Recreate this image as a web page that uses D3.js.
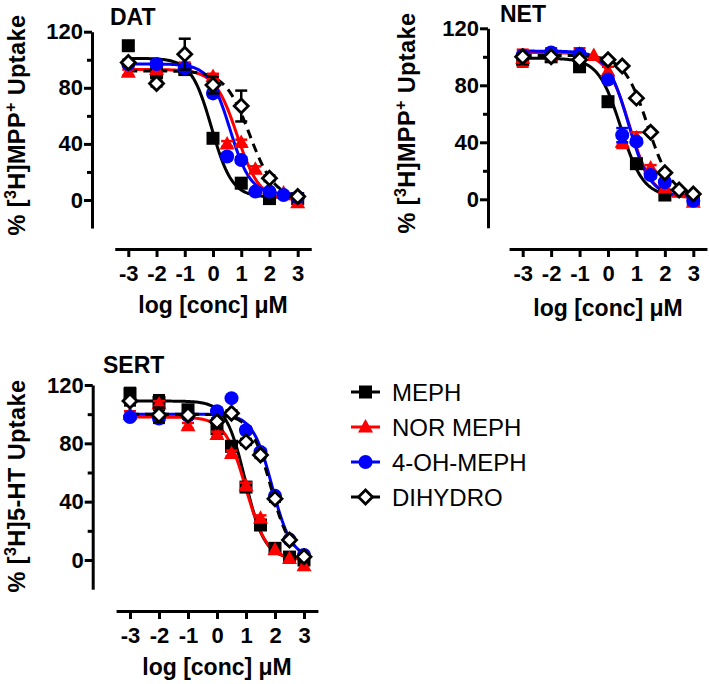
<!DOCTYPE html>
<html>
<head>
<meta charset="utf-8">
<script src="https://cdn.jsdelivr.net/npm/d3@7"></script>
<style>
  body { margin: 0; background: #fff; }
  svg { display: block; font-family: "Liberation Sans", Arial, sans-serif; }
</style>
</head>
<body>
<svg id="chart" width="709" height="684"></svg>
<script>
// ---- data ----
const seriesNames = ["MEPH", "NOR MEPH", "4-OH-MEPH", "DIHYDRO"];
const xTickValues = [-3, -2, -1, 0, 1, 2, 3];
const yTickValues = [0, 40, 80, 120];
const yMinorTicks = [20, 60, 100];

// DAT
const datX = [-3, -2, -1, 0, 0.5, 1, 1.5, 2, 2.5, 3];
const datMeph = [110, 91, 93, 44, null, 12, null, 1, null, 1];
const datMephSem = [3, 4, 2, 2, 0, 2, 0, 1, 0, 1];
const datNor = [91, 93, 96, 88, 40, 41, 22, 8, 5, -2];
const datNorSem = [2, 2, 2, 2, 2, 2, 2, 1, 1, 1];
const dat4oh = [97, 97, 94, 76, 31, 28.5, 6, 6, 3.5, 2];
const dat4ohSem = [2, 2, 2, 2, 2, 2, 1, 1, 1, 1];
const datDihydro = [98, 83, 104, 82, null, 67, null, 15.5, null, 2.5];
const datDihydroSem = [2, 2, 11, 6, 0, 11, 0, 2, 0, 1];
// fits: [top, bottom, logIC50, hill]
const datFits = [[101, 2, -0.05, 1.2], [93, 0, 0.85, 1.1], [97, 4, 0.6, 1.2], [92, 1, 1.3, 1.0]];

// NET
const netX = [-3, -2, -1, -0.5, 0, 0.5, 1, 1.5, 2, 2.5, 3];
const netMeph = [98, 100, 93, null, 68.5, null, 25, null, 3, null, 0];
const netMephSem = [3, 2, 2, 0, 2, 0, 2, 0, 1, 0, 1];
const netNor = [99, 102, 102, 101, 90, 40, 43, 22, 8, 5, -2];
const netNorSem = [6, 4, 4, 0, 3, 4, 4, 2, 2, 1, 2];
const net4oh = [101, 103, 102, null, 84, 45, 40.5, 17, 12, null, -1];
const net4ohSem = [2, 2, 2, 0, 2, 5, 2, 2, 2, 0, 2];
const netDihydro = [100, 100, 98, null, 98, 93.5, 71, 47, 18.7, 6.5, 3.7];
const netDihydroSem = [1, 1, 1, 0, 1, 1, 1, 1, 1, 1, 1];
const netFits = [[99, 2, 0.45, 1.1], [103, 1, 0.75, 1.1], [104, 2, 0.72, 1.15], [101, 2, 1.4, 1.05]];

// SERT
const sertX = [-3, -2, -1, 0, 0.5, 1, 1.5, 2, 2.5, 3];
const sertMeph = [114, 108, 103, 90, 78, 50, 24, 8, 2, 0];
const sertMephSem = [4, 5, 3, 2, 2, 2, 2, 1, 1, 1];
const sertNor = [100, 107, 92, 86, 73, 51, 28.6, 7, 1, -4];
const sertNorSem = [2, 2, 2, 2, 2, 2, 2, 1, 1, 1];
const sert4oh = [98, 97, 99, 102, 111, 89, 74, 44, 14, 3.5];
const sert4ohSem = [1, 3, 2, 2, 1, 2, 2, 1, 1, 1];
const sertDihydro = [109, 99.5, 99.5, 95, 100.6, 81, 72, 42, 13.7, 2.3];
const sertDihydroSem = [3, 5, 2, 2, 2, 2, 2, 2, 1, 1];
const sertFits = [[109, 1, 0.97, 1.3], [98, 0, 1.0, 1.2], [100, 1, 1.9, 1.3], [100, 1, 1.85, 1.25]];

// ---- styles ----
const COLORS = ["#000", "#ff0000", "#0000ff", "#000"];
const SYMBOLS = ["square", "triangle", "circle", "diamond"];

const panels = [
  { title: "DAT", tracer: "MPP", x: datX,
    ys: [datMeph, datNor, dat4oh, datDihydro],
    sems: [datMephSem, datNorSem, dat4ohSem, datDihydroSem], fits: datFits,
    ax: 92, yTop: 31.7, yZero: 200, xAxisY: 249, xLeft: 128.3, xRight: 297.7,
    titleX: 110, titleY: 25, yTitleX: 25, yTitleY: 125, xTitleX: 213, xTitleY: 313 },
  { title: "NET", tracer: "MPP", x: netX,
    ys: [netMeph, netNor, net4oh, netDihydro],
    sems: [netMephSem, netNorSem, net4ohSem, netDihydroSem], fits: netFits,
    ax: 488, yTop: 28.3, yZero: 199.3, xAxisY: 249, xLeft: 522.7, xRight: 693.3,
    titleX: 500, titleY: 22, yTitleX: 415, yTitleY: 123, xTitleX: 608, xTitleY: 316 },
  { title: "SERT", tracer: "5HT", x: sertX,
    ys: [sertMeph, sertNor, sert4oh, sertDihydro],
    sems: [sertMephSem, sertNorSem, sert4ohSem, sertDihydroSem], fits: sertFits,
    ax: 92.7, yTop: 385, yZero: 560, xAxisY: 611, xLeft: 130, xRight: 304,
    titleX: 103, titleY: 373, yTitleX: 25, yTitleY: 486, xTitleX: 217, xTitleY: 675 }
];

const svg = d3.select("#chart");

function logistic(p, x) {
  const [top, bottom, logIC50, hill] = p;
  return bottom + (top - bottom) / (1 + Math.pow(10, hill * (x - logIC50)));
}

function drawMarker(g, type, color, cx, cy) {
  if (type === "square") {
    g.append("rect").attr("x", cx - 6.5).attr("y", cy - 6.5)
      .attr("width", 13).attr("height", 13).attr("fill", color);
  } else if (type === "triangle") {
    g.append("path").attr("fill", color)
      .attr("d", `M${cx},${cy - 8} L${cx + 7.5},${cy + 5.5} L${cx - 7.5},${cy + 5.5} Z`);
  } else if (type === "circle") {
    g.append("circle").attr("cx", cx).attr("cy", cy).attr("r", 7).attr("fill", color);
  } else {
    g.append("path").attr("fill", "#fff").attr("stroke", color).attr("stroke-width", 2.8)
      .attr("d", `M${cx},${cy - 7} L${cx + 7},${cy} L${cx},${cy + 7} L${cx - 7},${cy} Z`);
  }
}

function yTitle(g, p) {
  const t = g.append("text")
    .attr("transform", `translate(${p.yTitleX},${p.yTitleY}) rotate(-90)`)
    .attr("text-anchor", "middle")
    .attr("font-size", 23.5).attr("font-weight", "bold")
    .attr("letter-spacing", 0.4);
  t.append("tspan").text("% [");
  t.append("tspan").attr("font-size", 16).attr("dy", -9).text("3");
  if (p.tracer === "MPP") {
    t.append("tspan").attr("dy", 9).text("H]MPP");
    t.append("tspan").attr("font-size", 16).attr("dy", -9).text("+");
    t.append("tspan").attr("dy", 9).text(" Uptake");
  } else {
    t.append("tspan").attr("dy", 9).text("H]5-HT Uptake");
  }
}

panels.forEach(p => {
  const g = svg.append("g");
  const y = d3.scaleLinear().domain([0, 120]).range([p.yZero, p.yTop]);
  const yAxisScale = d3.scaleLinear().domain([-20, 120]).range([y(-20), y(120)]);
  const x = d3.scaleLinear().domain([-3, 3]).range([p.xLeft, p.xRight]);
  const xAxisScale = d3.scaleLinear().domain([-3.48, 3.48]).range([x(-3.48), x(3.48)]);

  // y axis
  const ya = g.append("g").attr("transform", `translate(${p.ax},0)`)
    .call(d3.axisLeft(yAxisScale).tickValues(yTickValues).tickSize(8).tickSizeOuter(0).tickPadding(1));
  ya.append("g").call(d3.axisLeft(yAxisScale).tickValues(yMinorTicks).tickSize(5).tickFormat(""))
    .select(".domain").remove();

  // x axis
  g.append("g").attr("transform", `translate(0,${p.xAxisY})`)
    .call(d3.axisBottom(xAxisScale).tickValues(xTickValues).tickSize(8).tickSizeOuter(0)
      .tickPadding(8).tickFormat(d => String(d)));

  g.selectAll(".domain, .tick line").attr("stroke", "#000").attr("stroke-width", 3);
  g.selectAll(".tick text").attr("font-size", 22).attr("font-weight", "bold")
    .attr("font-family", "'Liberation Sans', Arial, sans-serif").attr("fill", "#000");

  // titles
  g.append("text").attr("x", p.titleX).attr("y", p.titleY)
    .attr("font-size", 23).attr("font-weight", "bold").text(p.title);
  g.append("text").attr("x", p.xTitleX).attr("y", p.xTitleY).attr("text-anchor", "middle")
    .attr("font-size", 23).attr("font-weight", "bold").text("log [conc] μM");
  yTitle(g, p);

  // fitted curves
  const xs = d3.range(-3, 3.001, 0.05);
  const line = d3.line().x(d => x(d[0])).y(d => y(d[1]));
  p.fits.forEach((f, i) => {
    g.append("path")
      .attr("d", line(xs.map(v => [v, logistic(f, v)])))
      .attr("fill", "none").attr("stroke", COLORS[i]).attr("stroke-width", 3)
      .attr("stroke-dasharray", i === 3 ? "9,6" : null);
  });

  // error bars + markers
  p.ys.forEach((vals, i) => {
    const sg = g.append("g");
    vals.forEach((v, j) => {
      if (v === null) return;
      const s = p.sems[i][j];
      if (s > 1.5) {
        const cx = x(p.x[j]);
        sg.append("line").attr("x1", cx).attr("x2", cx)
          .attr("y1", y(v - s)).attr("y2", y(v + s))
          .attr("stroke", COLORS[i]).attr("stroke-width", 2.5);
        [v - s, v + s].forEach(e => {
          sg.append("line").attr("x1", cx - 6).attr("x2", cx + 6)
            .attr("y1", y(e)).attr("y2", y(e))
            .attr("stroke", COLORS[i]).attr("stroke-width", 2.5);
        });
      }
    });
    vals.forEach((v, j) => {
      if (v === null) return;
      drawMarker(sg, SYMBOLS[i], COLORS[i], x(p.x[j]), y(v));
    });
  });
});

// legend
const legend = svg.append("g");
const legendY = d3.scalePoint().domain(seriesNames).range([392, 497]);
seriesNames.forEach((name, i) => {
  const cy = legendY(name);
  legend.append("line").attr("x1", 351).attr("x2", 380).attr("y1", cy).attr("y2", cy)
    .attr("stroke", COLORS[i]).attr("stroke-width", 3);
  drawMarker(legend, SYMBOLS[i], COLORS[i], 365.5, cy);
  legend.append("text").attr("x", 392).attr("y", cy + 8.5)
    .attr("font-size", 24).text(name);
});
</script>
</body>
</html>
